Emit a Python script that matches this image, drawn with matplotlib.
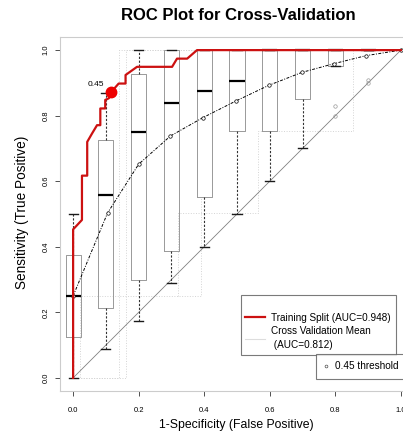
import matplotlib
matplotlib.use('Agg')
import matplotlib.pyplot as plt
from matplotlib.lines import Line2D

plt.rcParams['font.family'] = ['Liberation Sans', 'DejaVu Sans']

# training split ROC (step curve)
train_fpr = [0, 0, 0.027, 0.027, 0.043, 0.043, 0.058, 0.073, 0.083, 0.083, 0.098, 0.098,
             0.109, 0.117, 0.139, 0.16, 0.16, 0.195, 0.302, 0.317, 0.348, 0.378, 1.0]
train_tpr = [0, 0.453, 0.482, 0.617, 0.617, 0.72, 0.746, 0.771, 0.771, 0.822, 0.822, 0.848,
             0.853, 0.873, 0.898, 0.898, 0.924, 0.949, 0.949, 0.974, 0.974, 1.0, 1.0]
thr_point = (0.117, 0.873)
thr_label = '0.45'

# cross validation mean curve
cv_fpr = [0, 0.105, 0.2, 0.297, 0.396, 0.497, 0.598, 0.698, 0.797, 0.893, 1.0]
cv_tpr = [0.25, 0.503, 0.652, 0.738, 0.794, 0.845, 0.893, 0.932, 0.959, 0.983, 1.0]

# spread of sensitivity across folds at each point
box_pos = [0, 0.1, 0.2, 0.3, 0.4, 0.5, 0.6, 0.7, 0.8, 0.9]
box_lo = [0.0, 0.088, 0.175, 0.289, 0.40, 0.50, 0.60, 0.70, 0.952, 1.0]
box_q1 = [0.125, 0.213, 0.299, 0.387, 0.553, 0.753, 0.753, 0.85, 0.952, 1.0]
box_med = [0.25, 0.558, 0.751, 0.838, 0.875, 0.906, 1.0, 1.0, 1.0, 1.0]
box_q3 = [0.375, 0.726, 0.927, 1.0, 1.0, 1.0, 1.0, 1.0, 1.0, 1.0]
box_hi = [0.5, 0.87, 1.0, 1.0, 1.0, 1.0, 1.0, 1.0, 1.0, 1.0]
box_out = [[], [], [], [], [], [], [], [], [0.80, 0.83], [0.90, 0.91]]

# individual fold curves (faint)
folds = [
    ([0, 0.14, 0.14, 1.0], [0, 0, 1.0, 1.0]),
    ([0, 0.16, 0.16, 1.0], [0, 0, 1.0, 1.0]),
    ([0, 0.02, 0.02, 0.39, 0.39], [0, 0, 0.25, 0.25, 0.55]),
    ([0.32, 0.32, 0.565, 0.565, 0.855, 0.855], [0.25, 0.503, 0.503, 0.753, 0.753, 1.0]),
]


def main():
    fig = plt.figure(figsize=(4.03, 4.40), dpi=100)
    ax = fig.add_axes([60 / 403, 49 / 440, 354 / 403, 354 / 440])

    for fx, fy in folds:
        ax.plot(fx, fy, color='#d4d4d4', lw=0.7, ls=':', zorder=1)

    ax.plot([0, 1], [0, 1], color='0.5', lw=0.6, zorder=2)

    stats = []
    for i in range(len(box_pos)):
        stats.append({'whislo': box_lo[i], 'q1': box_q1[i], 'med': box_med[i],
                      'q3': box_q3[i], 'whishi': box_hi[i], 'fliers': box_out[i]})
    ax.bxp(stats, positions=box_pos, widths=0.046, manage_ticks=False, zorder=3,
           boxprops=dict(color='0.6', lw=0.7),
           medianprops=dict(color='black', lw=1.6),
           whiskerprops=dict(color='0.2', lw=0.8, ls=(0, (2, 1.5))),
           capprops=dict(color='0.1', lw=1.0),
           capwidths=0.028,
           flierprops=dict(marker='o', markersize=2.5, markerfacecolor='none',
                           markeredgecolor='0.6', markeredgewidth=0.5))

    ax.plot(cv_fpr, cv_tpr, color='black', lw=0.7, ls=(0, (3, 1.5, 1, 1.5)),
            marker='o', markersize=2.5, markerfacecolor='white', markeredgewidth=0.5, zorder=4)

    ax.plot(train_fpr, train_tpr, color='#cc1111', lw=1.6, zorder=5)
    ax.plot(*thr_point, 'o', color='#ee0000', markersize=7.5, zorder=6)
    ax.text(thr_point[0] - 0.048, thr_point[1] + 0.012, thr_label, fontsize=6, ha='center', va='bottom')

    ax.set_xlim(-0.04, 1.04)
    ax.set_ylim(-0.04, 1.04)
    ticks = [0, 0.2, 0.4, 0.6, 0.8, 1.0]
    ax.set_xticks(ticks)
    ax.set_xticklabels(['%.1f' % t for t in ticks])
    ax.set_yticks(ticks)
    ax.set_yticklabels(['%.1f' % t for t in ticks], rotation=90, va='center')
    ax.tick_params(labelsize=5.5, length=3.5, width=0.6, color='0.2')
    ax.tick_params(axis='x', pad=8)
    ax.tick_params(axis='y', pad=4)
    for s in ax.spines.values():
        s.set_color('#cccccc')
        s.set_linewidth(0.8)

    fig.text(238 / 403, 1 - 15 / 440, 'ROC Plot for Cross-Validation', fontsize=12,
             fontweight='bold', ha='center', va='center')
    fig.text(236 / 403, 1 - 425 / 440, '1-Specificity (False Positive)', fontsize=8.8,
             ha='center', va='center')
    fig.text(22 / 403, 1 - 212 / 440, 'Sensitivity (True Positive)', fontsize=9.8,
             ha='center', va='center', rotation=90)

    h1 = Line2D([], [], color='#cc1111', lw=1.6)
    h2 = Line2D([], [], color='#dddddd', lw=0.8)
    leg = ax.legend([h1, h2], ['Training Split (AUC=0.948)', 'Cross Validation Mean\n (AUC=0.812)'],
                    loc='lower left', bbox_to_anchor=(0.497, 0.0876), fontsize=7.2,
                    title=' ', title_fontsize=7.2,
                    frameon=True, fancybox=False, edgecolor='0.35', borderpad=0.45,
                    handlelength=2.0, handletextpad=0.6, labelspacing=0.35)
    for t in leg.get_texts():
        t.set_linespacing(1.5)
    leg.get_frame().set_linewidth(0.8)
    leg.set_zorder(10)
    ax.add_artist(leg)

    h3 = Line2D([], [], ls='none', marker='o', markersize=2, markerfacecolor='none',
                markeredgecolor='0.3', markeredgewidth=0.5)
    leg2 = ax.legend([h3], ['0.45 threshold'], loc='lower left', bbox_to_anchor=(0.709, 0.02),
                     fontsize=7.2, frameon=True, fancybox=False, edgecolor='0.35',
                     handlelength=0.5, handletextpad=0.7, borderpad=0.75)
    leg2.get_frame().set_linewidth(0.8)
    leg2.set_zorder(10)

    fig.savefig('out.png', dpi=100)


if __name__ == '__main__':
    main()
